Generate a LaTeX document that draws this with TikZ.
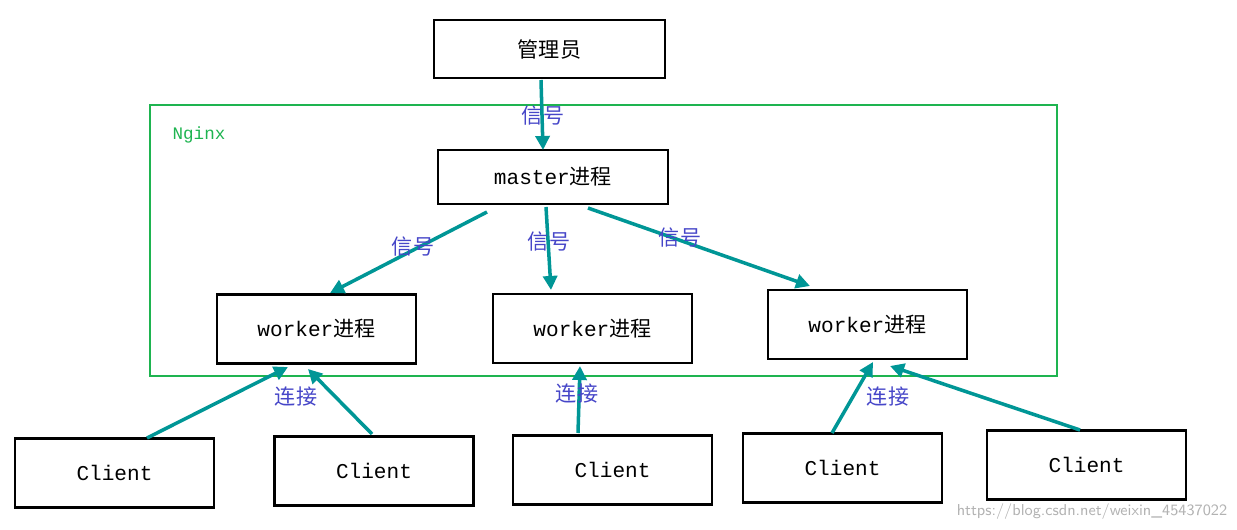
\documentclass[tikz,border=0pt]{standalone}
\usepackage{fontspec}
\setmonofont{Liberation Mono}
\newfontfamily\cjk{Noto Sans CJK SC}
\usetikzlibrary{arrows.meta}
\definecolor{teal1}{RGB}{0,150,150}
\definecolor{lab}{RGB}{70,70,200}
\definecolor{ngx}{RGB}{30,180,80}
\begin{document}
\begin{tikzpicture}[x=0.02cm,y=-0.02cm]
 \tikzset{box/.style={draw,line width=1.6pt,minimum width=3.98cm,minimum height=1.38cm,font=\ttfamily\large},
          conn/.style={draw=teal1,line width=2pt,-{Triangle[length=8pt,width=8pt]}},
          lbl/.style={text=lab,font=\cjk\large}}
 \useasboundingbox (0,0) rectangle (1237,530);
 \draw[ngx,line width=1.3pt] (150,105) rectangle (1057,376);
 \node (nginx) at (199,135) [text=ngx,font=\ttfamily] {Nginx};

 \node (admin) at (549.5,49) [box,minimum width=4.62cm,minimum height=1.16cm] {\cjk 管理员};
 \node (master) at (553,177) [box,minimum width=4.6cm,minimum height=1.08cm] {master{\cjk 进程}};
 \node (w1) at (316.5,329) [box] {worker{\cjk 进程}};
 \node (w2) at (592.5,328.5) [box] {worker{\cjk 进程}};
 \node (w3) at (867.5,324.5) [box] {worker{\cjk 进程}};

 \node (c1) at (114.5,473) [box] {Client};
 \node (c2) at (374,471) [box] {Client};
 \node (c3) at (612.5,470) [box] {Client};
 \node (c4) at (842.5,468) [box] {Client};
 \node (c5) at (1086.5,465) [box] {Client};

 % arrow ends
 \coordinate (a0) at (541,80);  \coordinate (m0) at (543,150);
 \coordinate (m1) at (487,212); \coordinate (w1t) at (330,293);
 \coordinate (m2) at (546,207); \coordinate (w2t) at (551,290);
 \coordinate (m3) at (588,208); \coordinate (w3t) at (810,286);
 \coordinate (c1t) at (147,438); \coordinate (w1a) at (288,367);
 \coordinate (c2t) at (372,434); \coordinate (w1b) at (308,369);
 \coordinate (c3t) at (578,433); \coordinate (w2b) at (580,366);
 \coordinate (c4t) at (832,433); \coordinate (w3a) at (873,362);
 \coordinate (c5t) at (1080,430); \coordinate (w3b) at (890,366);

 \draw [conn] (a0) to (m0);
 \draw [conn] (m1) to (w1t);
 \draw [conn] (m2) to (w2t);
 \draw [conn] (m3) to (w3t);
 \draw [conn] (c1t) to (w1a);
 \draw [conn] (c2t) to (w1b);
 \draw [conn] (c3t) to (w2b);
 \draw [conn] (c4t) to (w3a);
 \draw [conn] (c5t) to (w3b);
 \node (sg0) at (543,116) [lbl] {信号};
 \node (sg1) at (413,247) [lbl] {信号};
 \node (sg2) at (549,242) [lbl] {信号};
 \node (sg3) at (680,238) [lbl] {信号};
 \node (lk1) at (296,397) [lbl] {连接};
 \node (lk2) at (577,394) [lbl] {连接};
 \node (lk3) at (888,397) [lbl] {连接};

 \node (wm) at (1092,512) [text=black!30,font=\sffamily\small] {https://blog.csdn.net/weixin\_45437022};
\end{tikzpicture}
\end{document}
